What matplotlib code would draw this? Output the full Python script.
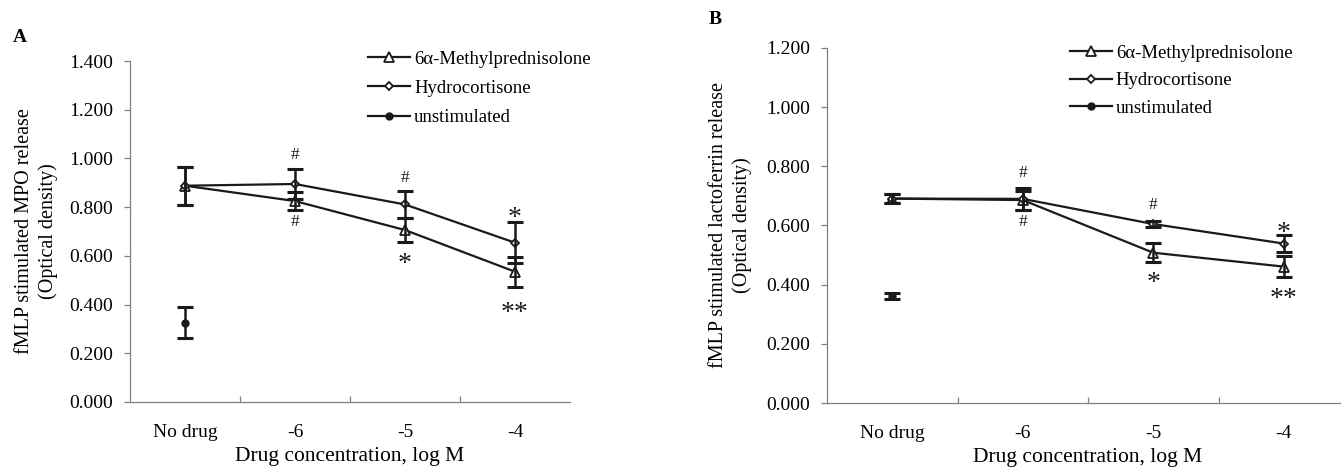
import matplotlib.pyplot as plt
import numpy as np

plt.rcParams['font.family'] = ['Liberation Serif', 'DejaVu Serif']

categories = ["No drug", "-6", "-5", "-4"]
x_pos = [0.5, 1.5, 2.5, 3.5]

# panel A: MPO release
mpo_mp = [0.888, 0.825, 0.706, 0.535]
mpo_mp_err = [0.078, 0.037, 0.050, 0.062]
mpo_hc = [0.888, 0.895, 0.811, 0.654]
mpo_hc_err = [0.078, 0.060, 0.057, 0.084]
mpo_unstim = [0.325]
mpo_unstim_err = [0.064]
mpo_marks = [(1.5, 1.023, "#"), (1.5, 0.747, "#"), (2.5, 0.928, "#"),
             (2.5, 0.597, "*"), (3.5, 0.788, "*"), (3.5, 0.398, "**")]

# panel B: lactoferrin release
lf_mp = [0.691, 0.686, 0.508, 0.461]
lf_mp_err = [0.014, 0.032, 0.033, 0.036]
lf_hc = [0.691, 0.690, 0.605, 0.539]
lf_hc_err = [0.014, 0.036, 0.011, 0.029]
lf_unstim = [0.3625]
lf_unstim_err = [0.010]
lf_marks = [(1.5, 0.785, "#"), (1.5, 0.618, "#"), (2.5, 0.677, "#"),
            (2.5, 0.432, "*"), (3.5, 0.601, "*"), (3.5, 0.376, "**")]

ink = '#1a1a1a'
axis_grey = '#808080'

fig = plt.figure(figsize=(13.41, 4.68), dpi=100)
ax_a = fig.add_axes([130/1341, 1-402/468, 440/1341, 341/468])
ax_b = fig.add_axes([827/1341, 1-403/468, 522/1341, 355/468])


def draw_panel(ax, mp, mp_err, hc, hc_err, un, un_err, marks, ymax, ylabel, label_x, leg_anchor, leg_space):
    l1, = ax.plot(x_pos, mp, color=ink, lw=1.6, marker='^', ms=6.5, mfc='white', mec=ink, mew=1.3,
                  label='6α-Methylprednisolone', zorder=2)
    l2, = ax.plot(x_pos, hc, color=ink, lw=1.6, marker='D', ms=4.5, mfc='white', mec=ink, mew=1.3,
                  label='Hydrocortisone', zorder=2)
    l3, = ax.plot(x_pos[:1], un, color=ink, lw=1.6, marker='o', ms=5, mfc=ink, mec=ink,
                  label='unstimulated', zorder=2)
    for vals, errs, xs in [(mp, mp_err, x_pos), (hc, hc_err, x_pos), (un, un_err, x_pos[:1])]:
        ax.errorbar(xs, vals, yerr=errs, fmt='none', ecolor=ink, elinewidth=1.8,
                    capsize=5.5, capthick=2.2, zorder=3)

    for x, y, txt in marks:
        fs = 12.5 if txt == "#" else 20
        k = 0.36 if txt == "#" else 0.52
        ax.annotate(txt, (x, y), xytext=(0, -k*fs), textcoords='offset points',
                    ha='center', va='baseline', fontsize=fs, color=ink)

    ax.set_xlim(0, 4)
    ax.set_ylim(0, ymax)
    ax.set_yticks(np.arange(0, ymax + 0.01, 0.2))
    ax.set_yticklabels(['{:.3f}'.format(v) for v in np.arange(0, ymax + 0.01, 0.2)])
    ax.set_xticks([1, 2, 3])
    ax.set_xticklabels([])
    ax.set_xticks(x_pos, minor=True)
    ax.set_xticklabels(categories, minor=True)
    ax.tick_params(axis='x', which='major', direction='in', length=4, width=0.9, color=axis_grey)
    ax.tick_params(axis='x', which='minor', length=0, pad=16, labelsize=14)
    ax.tick_params(axis='y', direction='out', length=4, width=0.9, color=axis_grey, pad=8, labelsize=14)

    for side in ['top', 'right']:
        ax.spines[side].set_visible(False)
    for side in ['left', 'bottom']:
        ax.spines[side].set_color(axis_grey)
        ax.spines[side].set_linewidth(0.9)

    ax.set_xlabel('Drug concentration, log M', fontsize=15.5, labelpad=4.5)
    ax.set_ylabel(ylabel, fontsize=14.5, linespacing=1.25)
    ax.yaxis.set_label_coords(label_x, 0.5)

    ax.legend(handles=[l1, l2, l3], loc='upper left', bbox_to_anchor=leg_anchor, frameon=False,
              fontsize=13.5, handlelength=2.25, handletextpad=0.2, labelspacing=leg_space,
              borderpad=0, borderaxespad=0)


draw_panel(ax_a, mpo_mp, mpo_mp_err, mpo_hc, mpo_hc_err, mpo_unstim, mpo_unstim_err, mpo_marks,
           1.4, 'fMLP stimulated MPO release\n(Optical density)', -0.164, (0.541, 1.03), 0.64)
draw_panel(ax_b, lf_mp, lf_mp_err, lf_hc, lf_hc_err, lf_unstim, lf_unstim_err, lf_marks,
           1.2, 'fMLP stimulated lactoferrin release\n(Optical density)', -0.144, (0.4655, 1.009), 0.55)

fig.text(20/1341, 1-38/468, 'A', fontsize=14, fontweight='bold', ha='center', va='center')
fig.text(715/1341, 1-20/468, 'B', fontsize=14, fontweight='bold', ha='center', va='center')

fig.savefig('out.png', dpi=100)
